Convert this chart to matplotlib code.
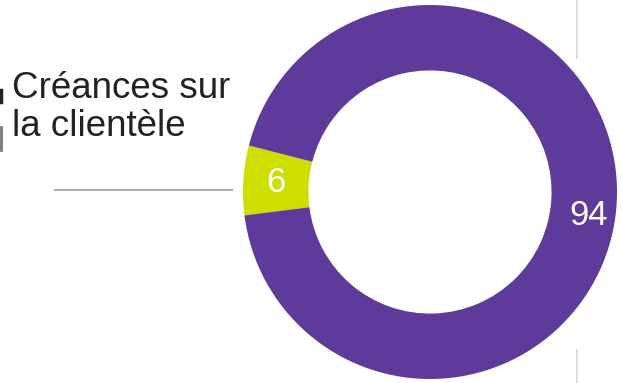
import numpy as np
import matplotlib.pyplot as plt

# données
labels = ["Créances sur la clientèle", "Autres"]
values = [6, 94]
colors = ["#CCDF00", "#5E3A9B"]
legend_text = "Créances sur\nla clientèle"

W, H = 623, 383
fig = plt.figure(figsize=(W / 100, H / 100), dpi=100)
ax = fig.add_axes([0, 0, 1, 1])

cx, cy, r = 430, H - 192, 187
width = 0.35
start = 165.6

wedges, _ = ax.pie(values, colors=colors, startangle=start, counterclock=True,
                   radius=r, center=(cx, cy),
                   wedgeprops=dict(width=r * width, edgecolor="none"))

# étiquettes au milieu de l'anneau
rm = r * (1 - width / 2)
total = sum(values)
a_small = np.deg2rad(start + 360 * values[0] / total / 2)
ax.text(cx + rm * np.cos(a_small), cy + rm * np.sin(a_small), str(values[0]),
        color="white", fontsize=25, ha="center", va="center", family="Liberation Sans")
a_big = np.deg2rad(start + 360 * values[0] / total + 360 * values[1] / total * 0.486)
ax.text(cx + 160 * np.cos(a_big), cy + 160 * np.sin(a_big), str(values[1]),
        color="white", fontsize=25, ha="center", va="center", family="Liberation Sans")

# légende
ax.text(12, H - 71, legend_text, fontsize=26.5, ha="left", va="top",
        linespacing=1.1, color="#222222", family="Liberation Sans")
ax.plot([55, 232], [H - 190, H - 190], color="#aaaaaa", lw=1.5)

# restes d'un élément voisin coupé à gauche
ax.plot([1, 1], [H - 90, H - 102], color="#222222", lw=2.5)
ax.plot([1, 1], [H - 127, H - 150], color="#777777", lw=2)

# séparateur vertical
ax.plot([577, 577], [H, H - 58], color="#dddddd", lw=1.5)
ax.plot([577, 577], [0, H - 350], color="#dddddd", lw=1.5)

ax.set_xlim(0, W)
ax.set_ylim(0, H)
ax.set_aspect("equal")
ax.axis("off")
fig.savefig("out.png", dpi=100)
